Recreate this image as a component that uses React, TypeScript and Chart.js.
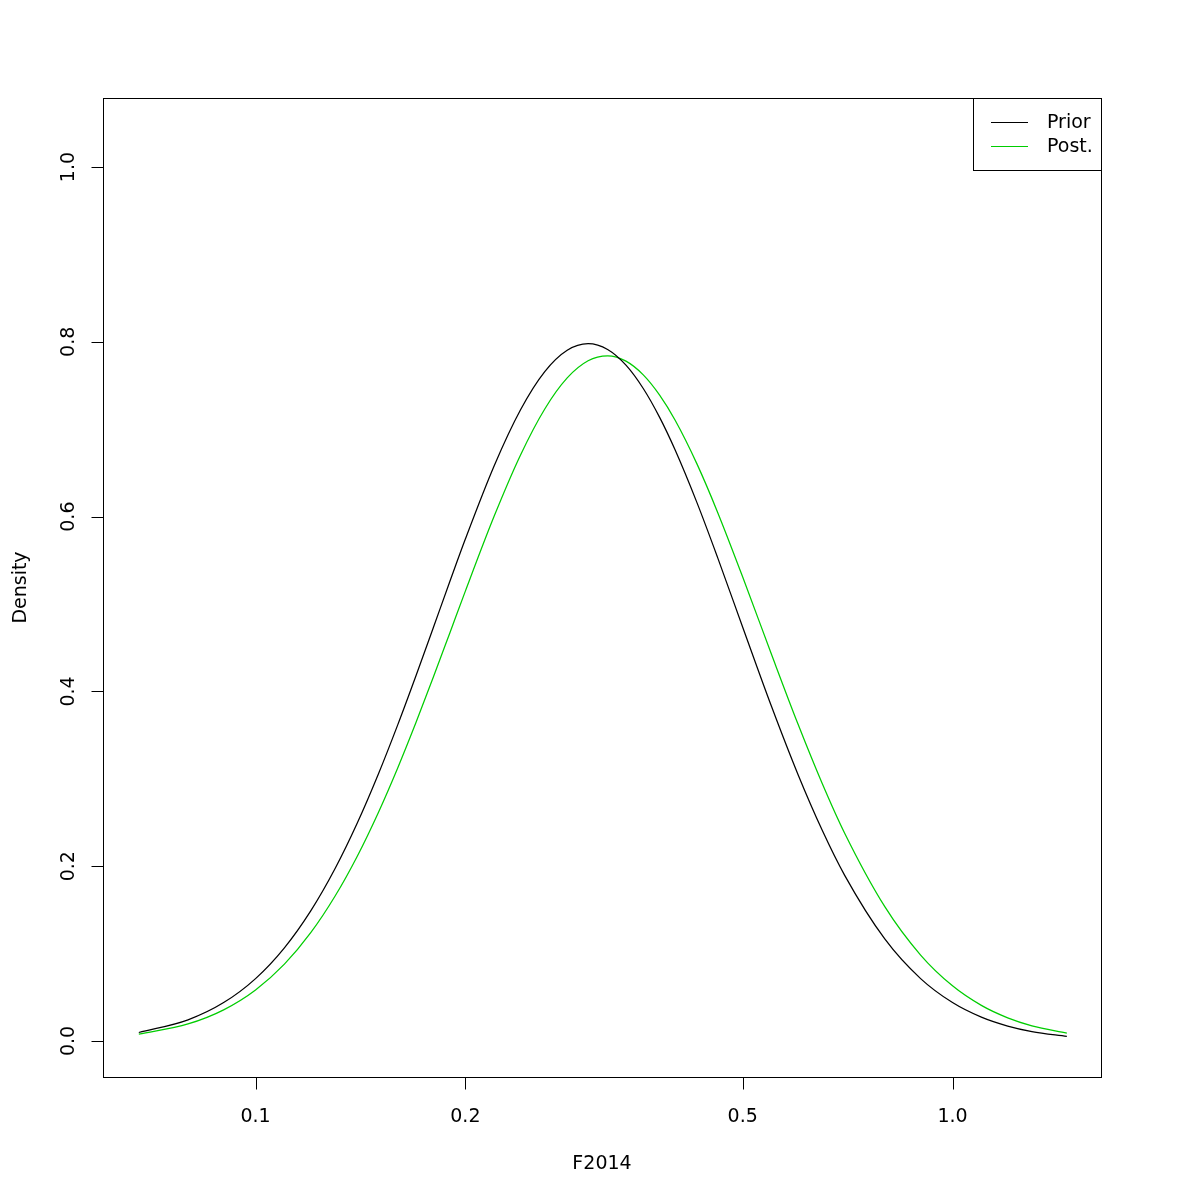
import React, { useEffect, useRef } from "react";
import { Chart, registerables } from "chart.js";

Chart.register(...registerables);

const fValues = [0.068, 0.08, 0.09, 0.1, 0.11, 0.12, 0.13, 0.14, 0.15, 0.16, 0.17, 0.18, 0.19, 0.2, 0.22, 0.24, 0.26, 0.28, 0.3, 0.32, 0.34, 0.36, 0.38, 0.4, 0.43, 0.46, 0.5, 0.55, 0.6, 0.65, 0.7, 0.8, 0.9, 1.0, 1.1, 1.2, 1.3, 1.459];
const priorDensity = [0.00973, 0.02424, 0.04396, 0.07138, 0.10657, 0.14886, 0.19705, 0.2497, 0.30522, 0.36202, 0.41853, 0.47347, 0.52569, 0.5743, 0.65824, 0.72225, 0.76588, 0.79034, 0.7979, 0.79128, 0.77329, 0.74658, 0.71353, 0.67618, 0.61572, 0.55366, 0.47348, 0.38268, 0.30524, 0.24137, 0.18985, 0.1165, 0.07139, 0.04396, 0.02727, 0.01709, 0.01082, 0.00535];
const postDensity = [0.00779, 0.01953, 0.03567, 0.05839, 0.08792, 0.12391, 0.16557, 0.21177, 0.26128, 0.31277, 0.36498, 0.41672, 0.46694, 0.51476, 0.60063, 0.67057, 0.72319, 0.75868, 0.77832, 0.78399, 0.77788, 0.76219, 0.73901, 0.71023, 0.66006, 0.6054, 0.53091, 0.44218, 0.36293, 0.29492, 0.23802, 0.15337, 0.09831, 0.0631, 0.04073, 0.02649, 0.01737, 0.00906];

const xTickValues = [0.1, 0.2, 0.5, 1.0];
const xTickLabels = ["0.1", "0.2", "0.5", "1.0"];
const yTickValues = [0, 0.2, 0.4, 0.6, 0.8, 1.0];
const yTickLabels = ["0.0", "0.2", "0.4", "0.6", "0.8", "1.0"];
const seriesNames = ["Prior", "Post."];
const seriesColors = ["#000000", "#00CD00"];
const xTitle = "F2014";
const yTitle = "Density";

const FONT = '19px "DejaVu Sans"';

const rAxesPlugin = {
  id: "rAxes",
  afterDraw(chart: any) {
    const ctx = chart.ctx as CanvasRenderingContext2D;
    const area = chart.chartArea;
    const xs = chart.scales.x;
    const ys = chart.scales.y;
    ctx.save();
    ctx.strokeStyle = "#000";
    ctx.lineWidth = 1;
    // box
    ctx.strokeRect(Math.round(area.left) + 0.5, Math.round(area.top) + 0.5, Math.round(area.right - area.left), Math.round(area.bottom - area.top));
    ctx.fillStyle = "#000";
    ctx.font = FONT;
    // x ticks
    const by = Math.round(area.bottom) + 0.5;
    ctx.beginPath();
    xTickValues.forEach((v) => {
      const px = Math.round(xs.getPixelForValue(v)) + 0.5;
      ctx.moveTo(px, by);
      ctx.lineTo(px, by + 12);
    });
    ctx.stroke();
    ctx.textAlign = "center";
    ctx.textBaseline = "alphabetic";
    xTickValues.forEach((v, i) => {
      ctx.fillText(xTickLabels[i], xs.getPixelForValue(v), 1122);
    });
    // y ticks
    const lx = Math.round(area.left) + 0.5;
    ctx.beginPath();
    yTickValues.forEach((v) => {
      const py = Math.round(ys.getPixelForValue(v)) + 0.5;
      ctx.moveTo(lx, py);
      ctx.lineTo(lx - 12, py);
    });
    ctx.stroke();
    yTickValues.forEach((v, i) => {
      ctx.save();
      ctx.translate(74, ys.getPixelForValue(v));
      ctx.rotate(-Math.PI / 2);
      ctx.textAlign = "center";
      ctx.textBaseline = "alphabetic";
      ctx.fillText(yTickLabels[i], 0, 0);
      ctx.restore();
    });
    // titles
    ctx.textAlign = "center";
    ctx.fillText(xTitle, (area.left + area.right) / 2, 1169);
    ctx.save();
    ctx.translate(26, (area.top + area.bottom) / 2);
    ctx.rotate(-Math.PI / 2);
    ctx.fillText(yTitle, 0, 0);
    ctx.restore();
    // legend
    const lgLeft = 973.5;
    const lgTop = Math.round(area.top) + 0.5;
    const lgRight = Math.round(area.right) + 0.5;
    const lgBottom = 170.5;
    ctx.strokeRect(lgLeft, lgTop, lgRight - lgLeft, lgBottom - lgTop);
    const rowY = [122.5, 146.5];
    seriesNames.forEach((name, i) => {
      ctx.strokeStyle = seriesColors[i];
      ctx.lineWidth = 1.1;
      ctx.beginPath();
      ctx.moveTo(991, rowY[i]);
      ctx.lineTo(1028, rowY[i]);
      ctx.stroke();
      ctx.fillStyle = "#000";
      ctx.textAlign = "left";
      ctx.textBaseline = "middle";
      ctx.fillText(name, 1047, rowY[i] + 1);
    });
    ctx.restore();
  },
};

export default function App() {
  const canvasRef = useRef<HTMLCanvasElement | null>(null);
  useEffect(() => {
    if (!canvasRef.current) return;
    const chart = new Chart(canvasRef.current, {
      type: "line",
      data: {
        datasets: [
          {
            label: seriesNames[0],
            data: fValues.map((x, i) => ({ x, y: priorDensity[i] })),
            borderColor: seriesColors[0],
            borderWidth: 1.25,
            pointRadius: 0,
            fill: false,
            cubicInterpolationMode: "monotone",
          },
          {
            label: seriesNames[1],
            data: fValues.map((x, i) => ({ x, y: postDensity[i] })),
            borderColor: seriesColors[1],
            borderWidth: 1.25,
            pointRadius: 0,
            fill: false,
            cubicInterpolationMode: "monotone",
          },
        ],
      },
      options: {
        responsive: false,
        animation: false,
        parsing: true,
        layout: { padding: { left: 103, top: 98, right: 99, bottom: 123 } },
        plugins: { legend: { display: false }, tooltip: { enabled: false } },
        scales: {
          x: { type: "logarithmic", min: 0.06041, max: 1.6333, display: false },
          y: { type: "linear", min: -0.0412, max: 1.079, display: false },
        },
      },
      plugins: [rAxesPlugin],
    });
    return () => chart.destroy();
  }, []);
  return (
    <div style={{ position: "absolute", left: 0, top: 0, width: 1200, height: 1200, background: "#fff" }}>
      <canvas ref={canvasRef} width={1200} height={1200} style={{ width: 1200, height: 1200, display: "block" }} />
    </div>
  );
}
